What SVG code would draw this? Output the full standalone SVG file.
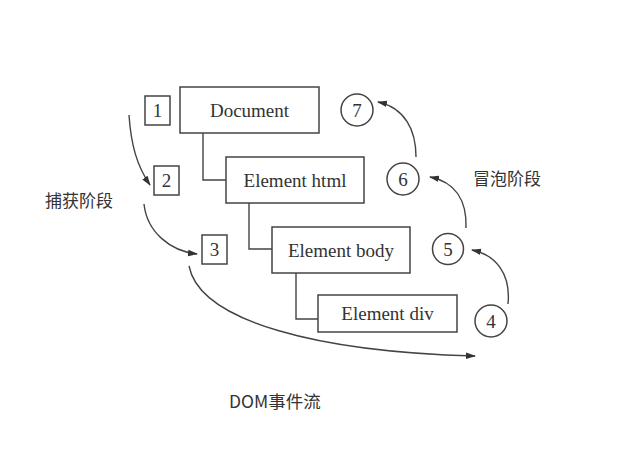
<svg xmlns="http://www.w3.org/2000/svg" width="618" height="457" viewBox="0 0 618 457">
<style>
.box{fill:#fff;stroke:#444;stroke-width:1.5}
.t{font-family:"Liberation Serif","Times New Roman",serif;font-size:19px;fill:#333;text-anchor:middle}
.n{font-family:"Liberation Serif","Times New Roman",serif;font-size:19px;fill:#333;text-anchor:middle}
.c{fill:none;stroke:#444;stroke-width:1.4}
.tree{fill:none;stroke:#444;stroke-width:1.4}
.lbl{font-family:"Noto Sans CJK SC","Noto Sans",sans-serif;font-size:17px;fill:#333}
</style>
<defs>
<marker id="ah" markerUnits="userSpaceOnUse" markerWidth="10" markerHeight="8" refX="9" refY="4" orient="auto">
<path d="M0,0.8 L10,4 L0,7.2 Z" fill="#333"/>
</marker>
</defs>
<rect width="618" height="457" fill="#fff"/>
<g id="tree-lines">
<path class="tree" d="M203,133 V180 H226"/>
<path class="tree" d="M249,203 V249 H272"/>
<path class="tree" d="M296,273 V319 H318"/>
</g>
<g id="document"><rect class="box" x="180" y="87" width="139" height="46"/><text class="t" x="249.5" y="116.5">Document</text></g>
<g id="html"><rect class="box" x="226" y="157" width="138" height="46"/><text class="t" x="295" y="186.5">Element html</text></g>
<g id="body"><rect class="box" x="272" y="227" width="138" height="46"/><text class="t" x="341" y="256.5">Element body</text></g>
<g id="div"><rect class="box" x="318" y="295" width="139" height="37"/><text class="t" x="387.5" y="320">Element div</text></g>
<g id="n1"><rect class="box" x="145" y="96" width="25" height="29"/><text class="n" x="157.5" y="117">1</text></g>
<g id="n2"><rect class="box" x="154" y="166" width="25" height="29"/><text class="n" x="166.5" y="187">2</text></g>
<g id="n3"><rect class="box" x="202" y="235" width="25" height="29"/><text class="n" x="214.5" y="256">3</text></g>
<g id="n4"><circle class="box" cx="491" cy="321" r="16"/><text class="n" x="491" y="328">4</text></g>
<g id="n5"><circle class="box" cx="448" cy="249" r="15.5"/><text class="n" x="448" y="256">5</text></g>
<g id="n6"><circle class="box" cx="403" cy="179" r="16"/><text class="n" x="403" y="186">6</text></g>
<g id="n7"><circle class="box" cx="357" cy="110" r="16"/><text class="n" x="357" y="117">7</text></g>
<g id="connectors">
<path class="c" marker-end="url(#ah)" d="M129,115 C131,145 137,166 150,185"/>
<path class="c" marker-end="url(#ah)" d="M144,204 C147,232 170,251 197,254"/>
<path class="c" marker-end="url(#ah)" d="M189,266 C200,322 320,352 475,356"/>
<path class="c" marker-end="url(#ah)" d="M508,304 C511,274 496,255 472,250"/>
<path class="c" marker-end="url(#ah)" d="M466,228 C467,200 455,182 430,177"/>
<path class="c" marker-end="url(#ah)" d="M416,157 C416,130 405,108 378,102"/>
</g>
<g id="labels">
<text class="lbl" x="45" y="207">捕获阶段</text>
<text class="lbl" x="473" y="185">冒泡阶段</text>
<text class="lbl" x="229" y="408" style="font-size:17.5px">DOM事件流</text>
</g>
</svg>
